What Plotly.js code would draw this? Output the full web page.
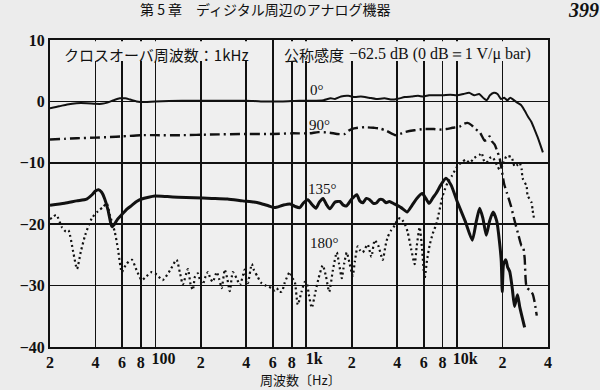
<!DOCTYPE html>
<html>
<head>
<meta charset="utf-8">
<script src="https://cdn.plot.ly/plotly-3.0.1.min.js"></script>
<style>html,body{margin:0;padding:0;background:#ececec;}#chart{width:600px;height:390px;}</style>
</head>
<body>
<div id="chart"></div>
<script>
// ---- data ----
const freq0 = [20,23,26,30,35,40,44,48,53,58,63,68,75,85,100,150,200,300,400,500,700,900,1100,1300,1450,1550,1700,1900,2100,2300,2600,2900,3300,3700,4000,4500,5000,5500,6000,6500,7000,8000,9000,10000,11000,12000,13000,14000,15000,15700,16500,17500,18500,19500,20500,21500,22500,23500,25000,26500,28000,29500,31000,32500,34000,35500,37000];
const db0   = [-1.1,-0.8,-0.5,-0.3,-0.3,-0.4,-0.4,-0.2,0.2,0.5,0.5,0.3,0.0,-0.1,0.0,0.1,0.1,0.1,0.1,0.0,0.0,0.1,0.1,0.2,0.5,0.4,0.8,0.9,0.7,0.8,0.6,0.4,0.5,0.3,0.4,0.7,0.8,0.9,0.8,1.0,1.0,1.0,1.1,1.0,1.2,1.4,1.0,1.2,0.5,0.2,1.0,1.4,1.2,0.4,0.6,0.2,0.6,0.3,-0.2,-0.6,-1.5,-2.5,-3.3,-4.5,-5.7,-7.0,-8.3];

const freq90 = [20,25,30,40,50,60,80,100,150,230,400,600,800,1050,1200,1430,1600,1800,1900,2000,2200,2440,2800,3060,3400,3900,4200,4480,5200,6000,7000,7620,8500,9300,10400,11000,11700,12500,13200,14100,14700,15200,15800,16400,17000,17700,18500,19100,20000,20500,21300,22700,24000,25500,26700,27300,28000,28900,30500,31700,32500,33700];
const db90   = [-6.2,-6.1,-6.0,-5.9,-5.8,-5.7,-5.5,-5.5,-5.5,-5.4,-5.3,-5.3,-5.2,-5.2,-5.0,-5.1,-5.3,-5.3,-4.8,-4.5,-4.3,-4.2,-4.3,-4.4,-4.8,-5.5,-5.3,-5.0,-4.7,-4.5,-4.5,-4.6,-4.5,-4.3,-4.1,-3.7,-3.5,-3.9,-4.5,-5.0,-5.8,-6.4,-6.2,-5.7,-6.5,-7.0,-8.2,-9.2,-12.0,-13.5,-14.8,-17.0,-19.4,-21.8,-23.5,-23.6,-25.5,-30.3,-30.8,-31.4,-32.5,-34.9];

const freq135 = [20,25,30,35,38,40,42,44,46,48.5,50.5,51.5,53.5,56,60,65,70,75,81,90,99,120,141,180,236,300,378,450,492,560,616,700,778,840,905,960,1023,1090,1157,1220,1290,1360,1432,1550,1670,1760,1850,2000,2160,2260,2370,2500,2630,2780,2930,3050,3200,3380,3550,3830,4250,4660,5000,5400,5870,6200,6520,6900,7240,7800,8420,9100,10000,11300,12600,13400,14100,14800,15600,16400,17300,18300,19100,19600,19900,20300,21000,21600,22300,23200,24000,25100,26000,28000];
const db135   = [-16.9,-16.6,-16.2,-15.9,-15.2,-14.6,-14.4,-14.8,-15.8,-17.7,-19.8,-20.4,-20.0,-19.2,-18.4,-17.5,-16.9,-16.3,-15.9,-15.6,-15.4,-15.5,-15.6,-15.7,-15.8,-15.9,-16.2,-16.4,-16.6,-17.0,-17.3,-16.9,-16.7,-17.1,-17.3,-16.5,-16.0,-16.8,-17.4,-16.4,-15.8,-16.8,-17.5,-16.4,-16.3,-16.9,-17.0,-15.9,-15.2,-16.2,-16.5,-15.8,-16.0,-16.6,-16.5,-16.0,-16.0,-16.5,-16.3,-16.7,-17.3,-18.0,-17.0,-15.8,-15.0,-15.8,-16.6,-15.7,-15.0,-13.6,-12.5,-13.6,-16.3,-19.5,-22.6,-19.5,-17.4,-19.0,-21.8,-19.5,-18.0,-19.5,-23.0,-26.0,-31.0,-26.5,-25.8,-27.0,-27.7,-30.5,-33.4,-31.5,-33.5,-36.8];

const freq180 = [20,22,24,25.5,26.5,28.5,30.2,32,34.2,37.9,41.6,45,47.5,49.9,53.8,56.4,59.9,64,69.8,75,81,87,94.4,102,111.6,125,138,145,152,164,171,177,183,191,198,206,215,223,231,240,255,265,275,288,300,311,326,345,363,391,400,410,435,450,477,500,531,560,591,615,637,660,688,720,777,810,839,878,930,977,1007,1040,1087,1150,1200,1285,1350,1418,1500,1592,1650,1718,1780,1854,1940,2030,2100,2192,2280,2365,2450,2552,2700,2840,3000,3208,3350,3462,3650,3853,4034,4200,4354,4500,4698,4950,5227,5400,5641,5850,6087,6300,6571,6900,7310,8012,8646,9190,10070,10710,11400,12090,13000,14090,14520,15200,15910,16500,17180,18530,19110,20000,21260,22940,24020,25150,25930,26730,27140,28840,29290,31130,31610,32500];
const db180   = [-19.2,-18.5,-20.5,-21.2,-21.0,-24.5,-27.3,-24.5,-21.8,-19.0,-17.9,-17.2,-16.6,-18.5,-21.3,-24.0,-27.8,-26.5,-25.8,-27.5,-29.1,-28.5,-27.8,-28.2,-29.1,-27.5,-25.8,-27.8,-29.8,-27.3,-29.8,-30.7,-28.5,-28.0,-29.2,-29.8,-28.5,-27.8,-28.8,-29.4,-27.8,-29.0,-30.4,-27.4,-29.0,-30.9,-27.8,-28.8,-29.9,-27.4,-29.0,-29.6,-26.5,-27.5,-28.6,-29.5,-29.9,-30.2,-30.4,-30.8,-30.4,-31.0,-31.0,-29.5,-27.8,-28.8,-29.4,-33.1,-31.0,-29.4,-29.6,-31.5,-33.6,-31.0,-29.0,-26.7,-28.5,-31.0,-27.5,-24.6,-26.5,-28.8,-26.5,-24.6,-26.5,-28.4,-26.0,-23.6,-24.3,-24.6,-24.0,-23.3,-25.3,-22.6,-23.5,-25.8,-23.5,-22.1,-21.0,-20.2,-19.2,-19.0,-19.4,-20.0,-21.3,-24.0,-26.5,-23.5,-20.5,-24.0,-28.8,-26.0,-23.4,-21.5,-19.8,-15.4,-13.2,-12.2,-10.5,-9.9,-9.5,-10.0,-9.2,-8.7,-8.4,-9.9,-9.8,-9.2,-9.1,-10.6,-11.1,-10.5,-8.9,-9.1,-10.6,-10.3,-10.0,-11.0,-12.5,-13.8,-15.3,-16.5,-17.7,-19.4];

// grid positions and tick labels (single-digit labels centred; decade labels set after the line)
const xGridVals  = [20,40,60,80,100,200,400,600,800,1000,2000,4000,6000,8000,10000,20000,40000];
const xDigitVals = [20,40,60,80,200,400,600,800,2000,4000,6000,8000,20000,40000];
const xDigitText = ['2','4','6','8','2','4','6','8','2','4','6','8','2','4'];
const xDecadeVals = [100,1000,10000];
const xDecadeText = ['100','1k','10k'];
const yTickVals = [-40,-30,-20,-10,0,10];
const yTickText = ['\u221240','\u221230','\u221220','\u221210','0','10'];

const curveLabels = ['0\u00b0','90\u00b0','135\u00b0','180\u00b0'];

// ---- chart ----
const ink = '#111111';
const bg = '#efefef';
const xr = [Math.log10(20), Math.log10(40000)];

const traces = [
  {x: freq0, y: db0, mode: 'lines', line: {color: ink, width: 2, shape: 'spline', smoothing: 0.6}},
  {x: freq90, y: db90, mode: 'lines', line: {color: ink, width: 2.4, dash: '10px,4px,2px,4px', shape: 'spline', smoothing: 0.6}},
  {x: freq135, y: db135, mode: 'lines', line: {color: ink, width: 3, shape: 'spline', smoothing: 0.6}},
  {x: freq180, y: db180, mode: 'lines', line: {color: ink, width: 2.2, dash: '2px,3px', shape: 'spline', smoothing: 0.6}},
  {x: [xDecadeVals[0]], y: [-100], xaxis: 'x2', mode: 'markers', marker: {opacity: 0}, hoverinfo: 'skip'},
  {x: [xGridVals[0]], y: [-100], xaxis: 'x3', mode: 'markers', marker: {opacity: 0}, hoverinfo: 'skip'}
];

const serif = 'Liberation Serif, DejaVu Serif, serif';
const jp = 'Noto Sans CJK JP, sans-serif';
function px2x(px){ return (px-50)/498; }
function px2y(py){ return (347-py)/307; }

const annotations = [
  {text: '\u7b2c 5 \u7ae0\u3000\u30c7\u30a3\u30b8\u30bf\u30eb\u5468\u8fba\u306e\u30a2\u30ca\u30ed\u30b0\u6a5f\u5668', xref:'paper', yref:'paper', x: px2x(265), y: px2y(9), xanchor:'center', yanchor:'middle', showarrow:false, font:{family: jp, size: 14, color: ink}},
  {text: '<b><i>399</i></b>', xref:'paper', yref:'paper', x: px2x(599.5), y: px2y(10), xanchor:'right', yanchor:'middle', borderpad: 0, showarrow:false, font:{family: serif, size: 20, color: ink}},
  {text: '\u30af\u30ed\u30b9\u30aa\u30fc\u30d0\u5468\u6ce2\u6570\uff1a1kHz', xref:'paper', yref:'paper', x: px2x(62), y: px2y(54), xanchor:'left', yanchor:'middle', showarrow:false, font:{family: jp, size: 15, color: ink}},
  {text: '\u516c\u79f0\u611f\u5ea6', xref:'paper', yref:'paper', x: px2x(282), y: px2y(54), xanchor:'left', yanchor:'middle', showarrow:false, font:{family: jp, size: 15, color: ink}},
  {text: '\u221262.5 dB (0 dB\uff1d1 V/\u03bc bar)', xref:'paper', yref:'paper', x: px2x(347), y: px2y(54), xanchor:'left', yanchor:'middle', showarrow:false, font:{family: serif, size: 16, color: ink}},
  {text: curveLabels[0], xref:'paper', yref:'paper', x: px2x(308), y: px2y(90), xanchor:'left', yanchor:'middle', showarrow:false, font:{family: serif, size: 15, color: ink}},
  {text: curveLabels[1], xref:'paper', yref:'paper', x: px2x(307), y: px2y(125), xanchor:'left', yanchor:'middle', showarrow:false, font:{family: serif, size: 15, color: ink}},
  {text: curveLabels[2], xref:'paper', yref:'paper', x: px2x(306), y: px2y(189), xanchor:'left', yanchor:'middle', showarrow:false, font:{family: serif, size: 15, color: ink}},
  {text: curveLabels[3], xref:'paper', yref:'paper', x: px2x(308), y: px2y(243), xanchor:'left', yanchor:'middle', showarrow:false, font:{family: serif, size: 15, color: ink}},
  {text: '\u5468\u6ce2\u6570\u3014Hz\u3015', xref:'paper', yref:'paper', x: px2x(300), y: px2y(389.5), xanchor:'center', yanchor:'bottom', borderpad: 0, showarrow:false, font:{family: jp, size: 13, color: ink}}
];

// clear band under the header texts (the print's grid stops there)
const shapes = [
  {type:'rect', xref:'paper', yref:'paper', x0: px2x(51.5), x1: px2x(256), y0: px2y(61), y1: px2y(41.3), fillcolor: bg, line:{width:0}, layer:'above'},
  {type:'rect', xref:'paper', yref:'paper', x0: px2x(280), x1: px2x(546.5), y0: px2y(61), y1: px2y(41.3), fillcolor: bg, line:{width:0}, layer:'above'}
];

const layout = {
  width: 600, height: 390,
  margin: {l: 50, r: 52, t: 40, b: 43, pad: 0},
  paper_bgcolor: '#ececec',
  plot_bgcolor: bg,
  showlegend: false,
  xaxis: {
    type: 'log', range: xr,
    tickmode: 'array', tickvals: xDigitVals, ticktext: xDigitText,
    tickangle: 0,
    showgrid: false,
    showline: true, linecolor: ink, linewidth: 2, mirror: true,
    ticks: '', zeroline: false,
    tickfont: {family: serif, size: 16, color: ink, weight: 'bold'}
  },
  xaxis2: {
    type: 'log', range: xr, overlaying: 'x', side: 'bottom', anchor: 'y',
    tickmode: 'array', tickvals: xDecadeVals, ticktext: xDecadeText,
    tickangle: 0, ticklabelshift: 8,
    showgrid: false, showline: false, ticks: '', zeroline: false,
    tickfont: {family: serif, size: 16, color: ink, weight: 'bold'}
  },
  xaxis3: {
    type: 'log', range: xr, overlaying: 'x', anchor: 'y',
    tickmode: 'array', tickvals: xGridVals, showticklabels: false,
    showgrid: true, gridcolor: ink, gridwidth: 1.7,
    showline: false, ticks: '', zeroline: false
  },
  yaxis: {
    range: [-40, 10],
    tickmode: 'array', tickvals: yTickVals, ticktext: yTickText,
    showgrid: true, gridcolor: ink, gridwidth: 1.7,
    showline: true, linecolor: ink, linewidth: 2, mirror: true,
    ticks: '', zeroline: false,
    tickfont: {family: serif, size: 16, color: ink, weight: 'bold'}
  },
  annotations: annotations,
  shapes: shapes
};

Plotly.newPlot('chart', traces, layout, {staticPlot: true, displayModeBar: false});
</script>
</body>
</html>
